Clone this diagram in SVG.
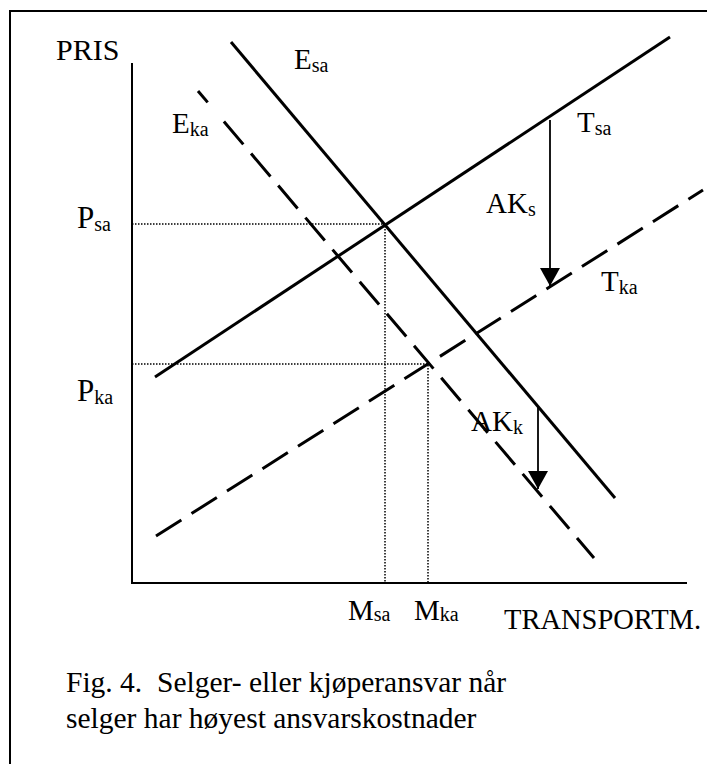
<svg xmlns="http://www.w3.org/2000/svg" width="707" height="764" viewBox="0 0 707 764">
<defs>
<style>
.lbl{font-family:"Liberation Serif","Times New Roman",serif;font-size:29px;fill:#000;white-space:pre}
.sub{font-size:20px}
.solid{stroke:#000;stroke-width:3;fill:none}
.dash{stroke:#000;stroke-width:3;fill:none;stroke-dasharray:30 12}
.dot{stroke:#000;stroke-width:1.5;fill:none;stroke-dasharray:1.5 1.5}
.axis{stroke:#000;stroke-width:2;fill:none}
.arr{stroke:#000;stroke-width:1.8;fill:none;marker-end:url(#head)}
</style>
<marker id="head" markerUnits="userSpaceOnUse" markerWidth="20" markerHeight="20" refX="18" refY="10" orient="auto">
<path d="M0,0 L18,10 L0,20 Z" fill="#000"/>
</marker>
</defs>
<rect x="10" y="11" width="720" height="790" fill="#fff" stroke="#000" stroke-width="2"/>
<g id="axes">
<path class="axis" d="M132,63 V583 H687"/>
</g>
<g id="connectors">
<g id="guides">
<path class="dot" d="M132,224 H385 V582"/>
<path class="dot" d="M132,364 H428 V582"/>
</g>
<path id="E_sa-line" class="solid" d="M231,42 L615,498"/>
<path id="T_sa-line" class="solid" d="M155,377 L670,37"/>
<g id="E_ka-line">
<path class="solid" d="M198,91 L207.7,102.4"/>
<path class="dash" d="M223.9,121.5 L594,558"/>
</g>
<path id="T_ka-line" class="dash" d="M156,536 L703,190"/>
<path id="AK_s-arrow" class="arr" d="M550,120 V286"/>
<path id="AK_k-arrow" class="arr" d="M538,407 V489"/>
</g>
<g id="labels">
<text id="PRIS" class="lbl" x="56" y="60" style="font-size:30px">PRIS</text>
<text id="E_sa" class="lbl" x="294" y="69">E<tspan class="sub" dy="3">sa</tspan></text>
<text id="E_ka" class="lbl" x="172" y="133">E<tspan class="sub" dy="3">ka</tspan></text>
<text id="T_sa" class="lbl" x="577" y="132">T<tspan class="sub" dy="3">sa</tspan></text>
<text id="AK_s" class="lbl" x="486" y="213">AK<tspan class="sub" dy="3">s</tspan></text>
<text id="T_ka" class="lbl" x="601" y="291">T<tspan class="sub" dy="3">ka</tspan></text>
<text id="P_sa" class="lbl" x="77" y="228" style="font-size:31px">P<tspan class="sub" dy="3">sa</tspan></text>
<text id="P_ka" class="lbl" x="77" y="401" style="font-size:31px">P<tspan class="sub" dy="3">ka</tspan></text>
<text id="AK_k" class="lbl" x="471" y="431">AK<tspan class="sub" dy="3">k</tspan></text>
<text id="M_sa" class="lbl" x="348" y="620">M<tspan class="sub" dy="1">sa</tspan></text>
<text id="M_ka" class="lbl" x="414" y="620">M<tspan class="sub" dy="1">ka</tspan></text>
<text id="TRANSPORTM" class="lbl" x="504" y="629" style="font-size:28.5px">TRANSPORTM.</text>
<text id="caption" class="lbl" x="66" y="692" style="font-size:29.5px">Fig. 4.  Selger- eller kjøperansvar når<tspan x="66" y="728">selger har høyest ansvarskostnader</tspan></text>
</g>
</svg>
